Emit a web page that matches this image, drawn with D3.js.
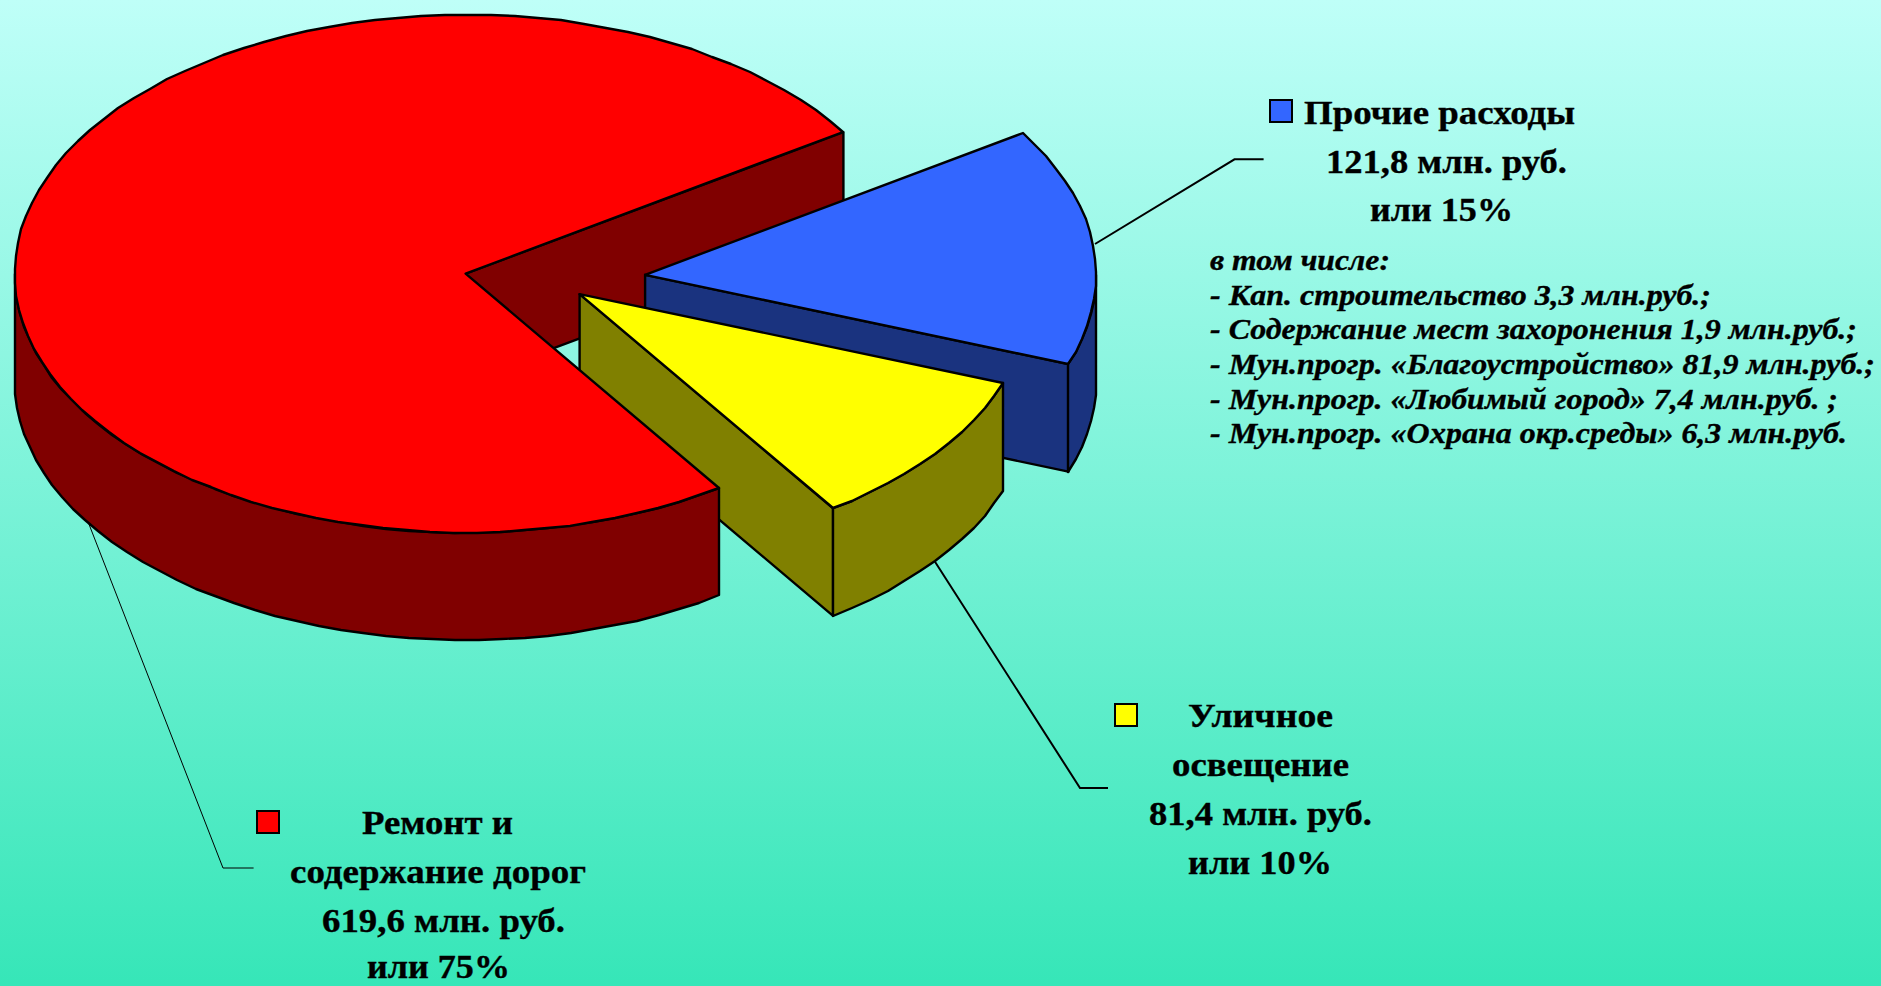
<!DOCTYPE html>
<html><head><meta charset="utf-8">
<style>html,body{margin:0;padding:0;overflow:hidden;background:#fff}svg{display:block}
text{font-family:"Liberation Serif","Times New Roman",serif;fill:#000;stroke:#000;stroke-width:.35px}</style>
<script src="https://cdn.jsdelivr.net/npm/d3@7"></script></head><body>
<script>
// ---- data ----
const categories = ["Прочие расходы", "Уличное освещение", "Ремонт и содержание дорог"];
const values = [121.8, 81.4, 619.6];
const topColors = ["#3366FF", "#FFFF00", "#FF0000"];
const sideColors = ["#1A337F", "#808000", "#800000"];
const labelLines = [
  ["Прочие расходы", "121,8 млн. руб.", "или 15%"],
  ["Уличное", "освещение", "81,4 млн. руб.", "или 10%"],
  ["Ремонт и", "содержание дорог", "619,6 млн. руб.", "или 75%"]
];
const noteLines = [
  "в том числе:",
  "- Кап. строительство 3,3 млн.руб.;",
  "- Содержание мест захоронения 1,9 млн.руб.;",
  "- Мун.прогр. «Благоустройство» 81,9 млн.руб.;",
  "- Мун.прогр. «Любимый город» 7,4 млн.руб. ;",
  "- Мун.прогр. «Охрана окр.среды» 6,3 млн.руб."
];

// ---- layout ----
const W = 1881, H = 986;
const cx = 465.6, cy = 273.6, rx = 451, ry = 259, depth = 107.5;
const firstAngleDeg = 56.9;
const explode = [[179.5, 1.2], [114, 20.5], [0, 0]];
const labelBoxes = [
  [[1304,1575,124],[1326,1567,173],[1370,1513,221]],
  [[1188,1333,727],[1172,1349,776],[1149,1372,825],[1188,1332,874]],
  [[362,513,834],[290,586,883],[322,565,932],[367,510,978]]
];
const noteBoxes = [[1210,1390,270],[1210,1711,305],[1210,1857,339],[1210,1875,374],[1210,1838,409],[1210,1847,443]];
const swatches = [[1270,100],[1115,704],[257,811]];
const leaders = [
  [[1095,244],[1234.5,159.3],[1263.6,159.3]],
  [[935,561.7],[1080,788],[1108,788]],
  [[88,521.7],[223,868],[253.6,868]]
];
const leaderWidths = [2, 2, 1];

const svg = d3.select("body").append("svg").attr("width", W).attr("height", H);
const grad = svg.append("defs").append("linearGradient").attr("id","bg").attr("x1",0).attr("x2",0).attr("y1",0).attr("y2",1);
grad.append("stop").attr("offset",0).attr("stop-color","#BFFFF8");
grad.append("stop").attr("offset",1).attr("stop-color","#36E6B8");
svg.append("rect").attr("width",W).attr("height",H).attr("fill","url(#bg)");

// ---- scales ----
const sx = d3.scaleLinear().domain([-1,1]).range([cx-rx, cx+rx]);
const sy = d3.scaleLinear().domain([-1,1]).range([cy-ry, cy+ry]);
const pie = d3.pie().sort(null).value(d=>d).startAngle(firstAngleDeg*Math.PI/180).endAngle(firstAngleDeg*Math.PI/180+2*Math.PI);
const arcs = pie(values);
const pt = (a,i,dz=0)=>[sx(Math.sin(a))+explode[i][0], sy(-Math.cos(a))+explode[i][1]+dz];
const centre = (i,dz=0)=>[sx(0)+explode[i][0], sy(0)+explode[i][1]+dz];
const line = d3.line();
const rim = (a0,a1,i,dz=0)=>{const n=Math.max(2,Math.ceil((a1-a0)/(Math.PI/60)));return d3.range(n+1).map(k=>pt(a0+(a1-a0)*k/n,i,dz).map(Math.round));};
const G = svg.append("g").attr("stroke","#000").attr("stroke-width",2.4).attr("stroke-linejoin","round");
const poly = (pts,fill)=>G.append("path").attr("d",line(pts)+"Z").attr("fill",fill);
const frontWall = (a0,a1,i)=>{ // visible part of the outer rim
  const lo=Math.max(a0,Math.PI/2), hi=Math.min(a1,Math.PI*3/2);
  const top=rim(lo,hi,i), bot=rim(lo,hi,i,depth).reverse();
  poly(top.concat(bot),sideColors[i]);
};

// leaders go behind the slices
svg.insert("g","g").selectAll("path").data(leaders).join("path")
  .attr("d",d=>line(d)).attr("fill","none").attr("stroke","#000").attr("stroke-width",(d,i)=>leaderWidths[i]);

// red slice: inner wall behind the exploded slices
const red = arcs[2];
poly([centre(2),pt(red.endAngle,2),pt(red.endAngle,2,depth),centre(2,depth)],sideColors[2]);
// blue
{const a=arcs[0];
 poly([centre(0),pt(a.endAngle,0),pt(a.endAngle,0,depth),centre(0,depth)],sideColors[0]);
 frontWall(a.startAngle,a.endAngle,0);
 poly([centre(0),...rim(a.startAngle,a.endAngle,0)],topColors[0]);}
// yellow
{const a=arcs[1];
 poly([centre(1),pt(a.endAngle,1),pt(a.endAngle,1,depth),centre(1,depth)],sideColors[1]);
 frontWall(a.startAngle,a.endAngle,1);
 poly([centre(1),...rim(a.startAngle,a.endAngle,1)],topColors[1]);}
// red outer wall and top over everything
frontWall(red.startAngle,red.endAngle,2);
poly([centre(2),...rim(red.startAngle,red.endAngle,2)],topColors[2]);

// swatches
svg.append("g").selectAll("rect").data(swatches).join("rect")
  .attr("x",d=>d[0]).attr("y",d=>d[1]).attr("width",22).attr("height",22)
  .attr("fill",(d,i)=>topColors[i]).attr("stroke","#000").attr("stroke-width",2);

// labels
const addText=(txt,b,size,italic)=>svg.append("text").text(txt)
  .attr("x",b[0]).attr("y",b[2]).attr("textLength",b[1]-b[0]).attr("lengthAdjust","spacingAndGlyphs")
  .attr("font-size",size).attr("font-weight","bold").attr("font-style",italic?"italic":"normal");
labelLines.forEach((ls,i)=>ls.forEach((t,j)=>addText(t,labelBoxes[i][j],34,false)));
noteLines.forEach((t,j)=>addText(t,noteBoxes[j],29,true));
</script></body></html>
